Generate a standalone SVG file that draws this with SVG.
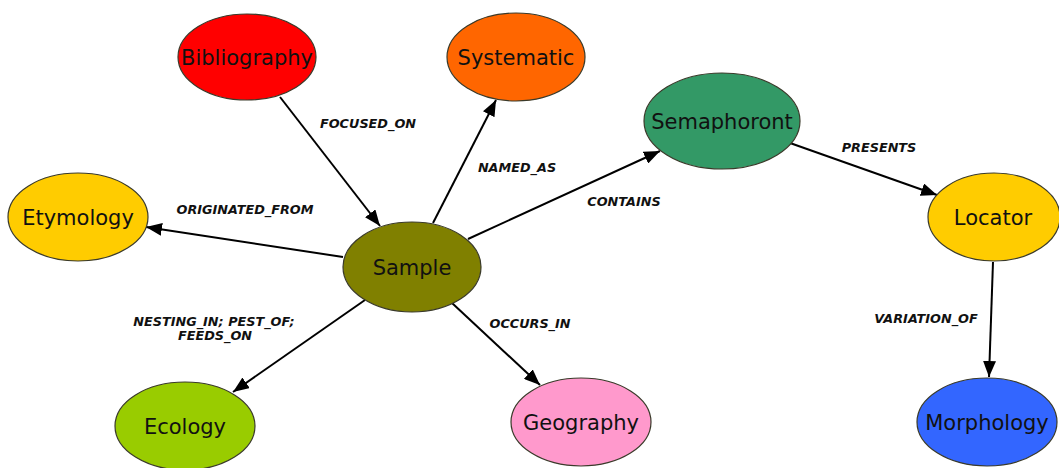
<svg xmlns="http://www.w3.org/2000/svg" width="1059" height="468" viewBox="0 0 1059 468">
<defs>
<marker id="arr" markerUnits="userSpaceOnUse" markerWidth="17" markerHeight="13" refX="16" refY="6.5" orient="auto">
<path d="M0,0 L16,6.5 L0,13 Z" fill="#000"/>
</marker>
<style>
.n{stroke:#3a3a2a;stroke-width:1.2}
.t{font-family:"DejaVu Sans",sans-serif;font-size:21px;fill:#111;text-anchor:middle}
.e{stroke:#000;stroke-width:2;fill:none;marker-end:url(#arr)}
.l{font-family:"DejaVu Sans",sans-serif;font-size:12.8px;font-weight:bold;font-style:italic;fill:#111;text-anchor:middle}
</style>
</defs>
<rect width="1059" height="468" fill="#fff"/>
<g id="connectors">
<line class="e" x1="280" y1="97" x2="380" y2="226"/>
<line class="e" x1="433" y1="223" x2="496" y2="100"/>
<line class="e" x1="468" y1="239" x2="660" y2="151"/>
<line class="e" x1="343" y1="257" x2="146" y2="227"/>
<line class="e" x1="365" y1="300" x2="233" y2="392"/>
<line class="e" x1="452" y1="303" x2="540" y2="385"/>
<line class="e" x1="790" y1="143" x2="937" y2="195"/>
<line class="e" x1="993" y1="262" x2="989" y2="377"/>
<text class="l" x="368" y="128">FOCUSED_ON</text>
<text class="l" x="517" y="172">NAMED_AS</text>
<text class="l" x="624" y="206">CONTAINS</text>
<text class="l" x="245" y="214">ORIGINATED_FROM</text>
<text class="l" x="214" y="326">NESTING_IN; PEST_OF;</text>
<text class="l" x="215" y="340">FEEDS_ON</text>
<text class="l" x="530" y="328">OCCURS_IN</text>
<text class="l" x="879" y="152">PRESENTS</text>
<text class="l" x="926" y="323">VARIATION_OF</text>
</g>
<g id="bibliography"><ellipse class="n" cx="247" cy="57" rx="69" ry="43" fill="#ff0000"/><text class="t" x="247" y="65">Bibliography</text></g>
<g id="systematic"><ellipse class="n" cx="516" cy="57" rx="69" ry="44" fill="#ff6600"/><text class="t" x="516" y="65">Systematic</text></g>
<g id="semaphoront"><ellipse class="n" cx="722" cy="121" rx="78" ry="48" fill="#339966"/><text class="t" x="722" y="129">Semaphoront</text></g>
<g id="etymology"><ellipse class="n" cx="78" cy="217" rx="70" ry="44" fill="#ffcc00"/><text class="t" x="78" y="225">Etymology</text></g>
<g id="sample"><ellipse class="n" cx="412" cy="267" rx="69" ry="45" fill="#808000"/><text class="t" x="412" y="275">Sample</text></g>
<g id="locator"><ellipse class="n" cx="994" cy="217" rx="66" ry="44" fill="#ffcc00"/><text class="t" x="993" y="225">Locator</text></g>
<g id="ecology"><ellipse class="n" cx="185" cy="426" rx="70" ry="44" fill="#99cc00"/><text class="t" x="185" y="434">Ecology</text></g>
<g id="geography"><ellipse class="n" cx="581" cy="422" rx="70" ry="44" fill="#ff99cc"/><text class="t" x="581" y="430">Geography</text></g>
<g id="morphology"><ellipse class="n" cx="987" cy="422" rx="70" ry="44" fill="#3366ff"/><text class="t" x="987" y="430">Morphology</text></g>
</svg>
